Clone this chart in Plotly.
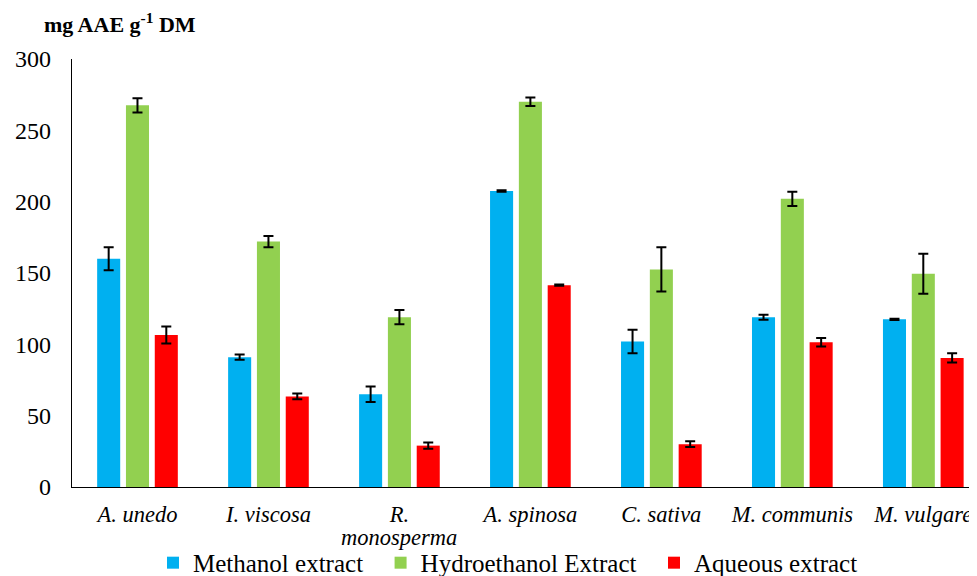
import plotly.graph_objects as go

categories = ["A. unedo", "I. viscosa", "R. monosperma", "A. spinosa", "C. sativa", "M. communis", "M. vulgare"]
tick_labels = ["A. unedo", "I. viscosa", "R.", "A. spinosa", "C. sativa", "M. communis", "M. vulgare"]
wrapped_label = "monosperma"

methanol = [160, 91, 65, 207.5, 102, 119, 117.5]
methanol_err = [8, 1.8, 5.4, 0.5, 8.3, 1.7, 0.5]
hydroethanol = [267.5, 172, 119, 270, 152.5, 202, 149.5]
hydroethanol_err = [5, 4, 5, 3, 15.5, 5, 14]
aqueous = [106.5, 63.5, 29, 141.5, 30, 101.5, 90.5]
aqueous_err = [6, 2, 2.2, 0.5, 2, 3, 3.2]

series_names = ["Methanol extract", "Hydroethanol Extract", "Aqueous extract"]
series = [
    (series_names[0] + "\u00a0\u00a0", methanol, methanol_err, "#00B0F0"),
    (series_names[1] + "\u00a0\u00a0", hydroethanol, hydroethanol_err, "#92D050"),
    (series_names[2], aqueous, aqueous_err, "#FF0000"),
]

fig = go.Figure()
for name, vals, errs, color in series:
    fig.add_trace(go.Bar(
        x=categories, y=vals, name=name,
        marker=dict(color=color, line=dict(width=0)),
        error_y=dict(type="data", array=errs, visible=True, color="black", thickness=2, width=5),
    ))

FONT = "Liberation Serif"
fig.update_layout(
    width=969, height=568,
    margin=dict(l=64, r=0, t=51, b=89),
    plot_bgcolor="white", paper_bgcolor="white",
    barmode="group", bargap=0.34, bargroupgap=0.2,
    font=dict(family=FONT, color="black"),
    showlegend=True,
    legend=dict(orientation="h", x=0.516, xanchor="center", xref="container",
                y=0.023, yanchor="middle", yref="container", bgcolor="rgba(0,0,0,0)",
                font=dict(size=25, family=FONT, color="black"), traceorder="normal"),
    xaxis=dict(type="category", range=[-0.5, 6.41], tickvals=categories,
               ticktext=["<i>" + t + "</i>" for t in tick_labels],
               tickfont=dict(size=22.5, family=FONT, color="black"), showline=True, linecolor="black",
               linewidth=1.3, ticks="", showgrid=False, automargin=False, ticklabelstandoff=7),
    yaxis=dict(range=[0, 300], tickvals=[0, 50, 100, 150, 200, 250, 300],
               tickfont=dict(size=24, family=FONT, color="black"), showline=True, linecolor="black",
               linewidth=1.3, ticks="", showgrid=False, zeroline=False, ticklabelstandoff=15,
               automargin=False),
    annotations=[
        dict(text="<b>mg AAE g<sup>-1</sup> DM</b>", xref="paper", yref="paper",
             x=-0.033, y=1.084, xanchor="left", yanchor="middle", showarrow=False,
             font=dict(size=22, family=FONT, color="black")),
        dict(text="<i>" + wrapped_label + "</i>", xref="x", yref="paper",
             x=categories[2], y=-0.119, xanchor="center", yanchor="middle", showarrow=False,
             font=dict(size=22.5, family=FONT, color="black")),
    ],
)

fig.write_html("out.html")
